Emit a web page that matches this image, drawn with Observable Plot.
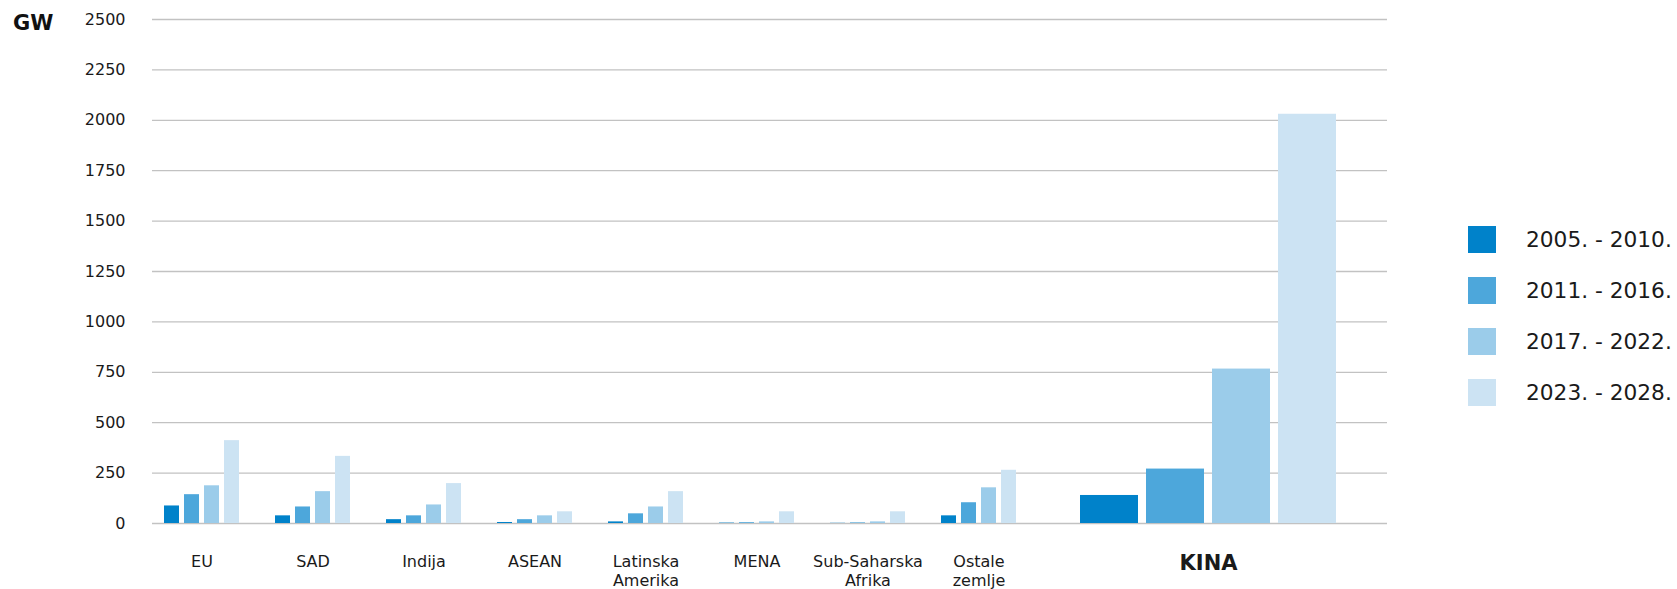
<!DOCTYPE html>
<html><head><meta charset="utf-8">
<script src="https://cdn.jsdelivr.net/npm/d3@7"></script>
<script src="https://cdn.jsdelivr.net/npm/@observablehq/plot@0.6"></script>
<style>
body{margin:0;background:#fff;font-family:"DejaVu Sans",Verdana,sans-serif;}
#wrap{position:relative;width:1677px;height:589px;overflow:hidden;background:#fff;}
#wrap svg{position:absolute;left:0;top:0;}
#unit{position:absolute;left:13px;top:11px;font-weight:bold;font-size:21px;color:#111;}
#legend{position:absolute;left:1468px;top:226px;}
.item{display:flex;align-items:center;height:27px;margin-bottom:24px;}
.sw{width:28px;height:27px;margin-right:30px;}
.lab{font-size:21.7px;color:#1a1a1a;white-space:nowrap;}
</style></head>
<body><div id="wrap"><div id="unit">GW</div><div id="legend"></div></div>
<script>
// ---- data ----
const periods = ["2005. - 2010.", "2011. - 2016.", "2017. - 2022.", "2023. - 2028."];
const colors = ["#0082CA", "#4DA7DB", "#9BCCEA", "#CCE3F3"];
const regions = ["EU", "SAD", "Indija", "ASEAN", "Latinska Amerika", "MENA", "Sub-Saharska Afrika", "Ostale zemlje"];
const regionLabels = ["EU", "SAD", "Indija", "ASEAN", "Latinska\nAmerika", "MENA", "Sub-Saharska\nAfrika", "Ostale\nzemlje"];
const v2005_2010 = [87, 38, 19, 5, 8, 2, 1, 38];
const v2011_2016 = [143, 82, 38, 19, 48, 4, 3, 103];
const v2017_2022 = [187, 158, 92, 38, 82, 8, 8, 177];
const v2023_2028 = [411, 333, 198, 58, 158, 58, 58, 264];
const kinaLabel = "KINA";
const kinaValues = [139, 270, 766, 2030];
const yTicks = [0, 250, 500, 750, 1000, 1250, 1500, 1750, 2000, 2250, 2500];
const unit = "GW";

// ---- build tables ----
const series = [v2005_2010, v2011_2016, v2017_2022, v2023_2028];
const rows = regions.flatMap((r, i) => periods.map((p, j) => ({region: r, period: p, value: series[j][i]})));
const kinaRows = periods.map((p, j) => ({region: kinaLabel, period: p, value: kinaValues[j]}));
const labelOf = new Map(regions.map((r, i) => [r, regionLabels[i]]));

const W = 1400, H = 589;
const dims = {width: W, height: H, marginTop: 19, marginBottom: 66, marginLeft: 152, marginRight: 13};
const baseStyle = {fontFamily: "DejaVu Sans, Verdana, sans-serif", fontSize: "16px", color: "#1a1a1a", background: "transparent", overflow: "visible"};
const colorScale = {domain: periods, range: colors};

const wrap = document.getElementById("wrap");
document.getElementById("unit").textContent = unit;

// grid + y axis
const grid = Plot.plot({
  ...dims,
  style: baseStyle,
  y: {domain: [0, 2500]},
  marks: [
    Plot.ruleY(yTicks, {stroke: "#c2c2c2", strokeWidth: 1.3}),
    Plot.axisY(yTicks, {tickSize: 0, tickPadding: 27, label: null, fontSize: 16, tickFormat: d => String(d)})
  ]
});
wrap.appendChild(grid);

// regional groups
const regionPlot = Plot.plot({
  ...dims,
  style: baseStyle,
  fx: {domain: regions, range: [145.65, 1034.45], padding: 0},
  x: {domain: periods, paddingInner: 0.238, paddingOuter: 0.87, axis: null},
  y: {domain: [0, 2500], axis: null},
  color: colorScale,
  marks: [
    Plot.barY(rows, {fx: "region", x: "period", y: "value", fill: "period"}),
    Plot.axisFx({anchor: "bottom", tickSize: 0, tickPadding: 30, fontSize: 16, lineHeight: 1.17, label: null, tickFormat: d => labelOf.get(d)})
  ]
});
wrap.appendChild(regionPlot);

// China group
const kinaPlot = Plot.plot({
  ...dims,
  style: baseStyle,
  fx: {domain: [kinaLabel], range: [1076, 1340], padding: 0},
  x: {domain: periods, paddingInner: 0.1212, paddingOuter: 0.0606, axis: null},
  y: {domain: [0, 2500], axis: null},
  color: colorScale,
  marks: [
    Plot.barY(kinaRows, {fx: "region", x: "period", y: "value", fill: "period"}),
    Plot.axisFx({anchor: "bottom", tickSize: 0, tickPadding: 32, fontSize: 21, fontWeight: "bold", label: null})
  ]
});
wrap.appendChild(kinaPlot);

// legend
const legend = d3.select("#legend");
periods.forEach((p, j) => {
  const it = legend.append("div").attr("class", "item");
  it.append("div").attr("class", "sw").style("background", colors[j]);
  it.append("div").attr("class", "lab").text(p);
});
</script>
</body></html>
